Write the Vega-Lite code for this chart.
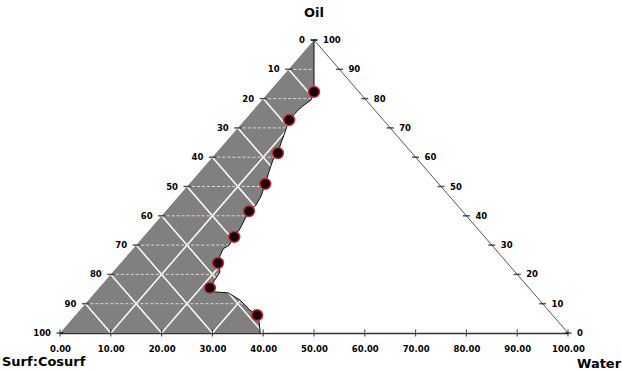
{
  "$schema": "https://vega.github.io/schema/vega-lite/v6.json",
  "width": 508,
  "height": 293,
  "autosize": {"type": "none"},
  "padding": {"left": 60, "top": 40, "right": 54, "bottom": 38},
  "background": "white",
  "config": {"view": {"stroke": null}},
  "datasets": {
    "region": [
      {"i": 0, "x": 0, "y": 0, "edge": "left"},
      {"i": 1, "x": 50, "y": 100, "edge": "boundary"},
      {"i": 2, "x": 50, "y": 83.6, "edge": "boundary"},
      {"i": 3, "x": 50, "y": 81.9, "edge": "boundary"},
      {"i": 4, "x": 49.4, "y": 79.5, "edge": "boundary"},
      {"i": 5, "x": 47.8, "y": 77.5, "edge": "boundary"},
      {"i": 6, "x": 46.5, "y": 75.4, "edge": "boundary"},
      {"i": 7, "x": 45.1, "y": 72.7, "edge": "boundary"},
      {"i": 8, "x": 44.7, "y": 70.6, "edge": "boundary"},
      {"i": 9, "x": 44.3, "y": 68.6, "edge": "boundary"},
      {"i": 10, "x": 43.5, "y": 64.8, "edge": "boundary"},
      {"i": 11, "x": 42.9, "y": 61.8, "edge": "boundary"},
      {"i": 12, "x": 41.9, "y": 59.0, "edge": "boundary"},
      {"i": 13, "x": 41.1, "y": 54.9, "edge": "boundary"},
      {"i": 14, "x": 40.4, "y": 50.9, "edge": "boundary"},
      {"i": 15, "x": 39.6, "y": 46.8, "edge": "boundary"},
      {"i": 16, "x": 38.6, "y": 43.7, "edge": "boundary"},
      {"i": 17, "x": 37.2, "y": 41.6, "edge": "boundary"},
      {"i": 18, "x": 36.4, "y": 38.9, "edge": "boundary"},
      {"i": 19, "x": 35.4, "y": 35.5, "edge": "boundary"},
      {"i": 20, "x": 34.3, "y": 32.8, "edge": "boundary"},
      {"i": 21, "x": 33.3, "y": 30.0, "edge": "boundary"},
      {"i": 22, "x": 32.1, "y": 28.7, "edge": "boundary"},
      {"i": 23, "x": 31.5, "y": 26.3, "edge": "boundary"},
      {"i": 24, "x": 31.1, "y": 23.9, "edge": "boundary"},
      {"i": 25, "x": 31.5, "y": 20.8, "edge": "boundary"},
      {"i": 26, "x": 30.3, "y": 17.7, "edge": "boundary"},
      {"i": 27, "x": 29.5, "y": 15.4, "edge": "boundary"},
      {"i": 28, "x": 30.5, "y": 14.0, "edge": "boundary"},
      {"i": 29, "x": 33.1, "y": 13.7, "edge": "boundary"},
      {"i": 30, "x": 35.4, "y": 11.3, "edge": "boundary"},
      {"i": 31, "x": 37.4, "y": 7.8, "edge": "boundary"},
      {"i": 32, "x": 38.8, "y": 6.1, "edge": "boundary"},
      {"i": 33, "x": 39.2, "y": 3.8, "edge": "boundary"},
      {"i": 34, "x": 39.4, "y": 0, "edge": "boundary"}
    ],
    "dots": [
      {"x": 50.0, "y": 82.3},
      {"x": 45.1, "y": 72.7},
      {"x": 42.9, "y": 61.4},
      {"x": 40.4, "y": 50.9},
      {"x": 37.2, "y": 41.6},
      {"x": 34.3, "y": 32.8},
      {"x": 31.1, "y": 23.9},
      {"x": 29.5, "y": 15.4},
      {"x": 38.8, "y": 6.1}
    ],
    "hgrid": [
      {"y": 10, "x": 5, "x2": 36.1},
      {"y": 20, "x": 10, "x2": 31.2},
      {"y": 30, "x": 15, "x2": 33.3},
      {"y": 40, "x": 20, "x2": 36.7},
      {"y": 50, "x": 25, "x2": 40.2},
      {"y": 60, "x": 30, "x2": 42.3},
      {"y": 70, "x": 35, "x2": 44.6},
      {"y": 80, "x": 40, "x2": 49.5},
      {"y": 90, "x": 45, "x2": 50}
    ],
    "dgrid": [
      {"x": 10, "y": 0, "x2": 55, "y2": 90}, {"x": 90, "y": 0, "x2": 45, "y2": 90},
      {"x": 20, "y": 0, "x2": 60, "y2": 80}, {"x": 80, "y": 0, "x2": 40, "y2": 80},
      {"x": 30, "y": 0, "x2": 65, "y2": 70}, {"x": 70, "y": 0, "x2": 35, "y2": 70},
      {"x": 40, "y": 0, "x2": 70, "y2": 60}, {"x": 60, "y": 0, "x2": 30, "y2": 60},
      {"x": 50, "y": 0, "x2": 75, "y2": 50}, {"x": 50, "y": 0, "x2": 25, "y2": 50},
      {"x": 60, "y": 0, "x2": 80, "y2": 40}, {"x": 40, "y": 0, "x2": 20, "y2": 40},
      {"x": 70, "y": 0, "x2": 85, "y2": 30}, {"x": 30, "y": 0, "x2": 15, "y2": 30},
      {"x": 80, "y": 0, "x2": 90, "y2": 20}, {"x": 20, "y": 0, "x2": 10, "y2": 20},
      {"x": 90, "y": 0, "x2": 95, "y2": 10}, {"x": 10, "y": 0, "x2": 5, "y2": 10}
    ],
    "sides": [
      {"side": "left", "v": 0, "x": 50, "y": 100},
      {"side": "left", "v": 10, "x": 45, "y": 90},
      {"side": "left", "v": 20, "x": 40, "y": 80},
      {"side": "left", "v": 30, "x": 35, "y": 70},
      {"side": "left", "v": 40, "x": 30, "y": 60},
      {"side": "left", "v": 50, "x": 25, "y": 50},
      {"side": "left", "v": 60, "x": 20, "y": 40},
      {"side": "left", "v": 70, "x": 15, "y": 30},
      {"side": "left", "v": 80, "x": 10, "y": 20},
      {"side": "left", "v": 90, "x": 5, "y": 10},
      {"side": "left", "v": 100, "x": 0, "y": 0},
      {"side": "right", "v": 100, "x": 50, "y": 100},
      {"side": "right", "v": 90, "x": 55, "y": 90},
      {"side": "right", "v": 80, "x": 60, "y": 80},
      {"side": "right", "v": 70, "x": 65, "y": 70},
      {"side": "right", "v": 60, "x": 70, "y": 60},
      {"side": "right", "v": 50, "x": 75, "y": 50},
      {"side": "right", "v": 40, "x": 80, "y": 40},
      {"side": "right", "v": 30, "x": 85, "y": 30},
      {"side": "right", "v": 20, "x": 90, "y": 20},
      {"side": "right", "v": 10, "x": 95, "y": 10},
      {"side": "right", "v": 0, "x": 100, "y": 0}
    ],
    "bottom": [
      {"x": 0, "y": 0}, {"x": 10, "y": 0}, {"x": 20, "y": 0}, {"x": 30, "y": 0},
      {"x": 40, "y": 0}, {"x": 50, "y": 0}, {"x": 60, "y": 0}, {"x": 70, "y": 0},
      {"x": 80, "y": 0}, {"x": 90, "y": 0}, {"x": 100, "y": 0}
    ]
  },
  "layer": [
    {
      "data": {"name": "region"},
      "mark": {"type": "line", "fill": "#808080", "strokeWidth": 0, "interpolate": "linear-closed"},
      "encoding": {
        "x": {"field": "x", "type": "quantitative", "scale": {"domain": [0, 100], "nice": false, "zero": false},
          "axis": {"title": null, "values": [0, 10, 20, 30, 40, 50, 60, 70, 80, 90, 100], "format": ".2f", "ticks": false, "grid": false,
            "labelFont": "DejaVu Sans", "labelFontWeight": "bold", "labelFontSize": 8.5, "labelColor": "#000", "labelPadding": 11,
            "domainColor": "#333", "domainWidth": 1.5, "labelFlush": false, "labelOverlap": false}},
        "y": {"field": "y", "type": "quantitative", "scale": {"domain": [0, 100], "nice": false, "zero": false}, "axis": null},
        "order": {"field": "i", "type": "quantitative"}
      }
    },
    {
      "data": {"name": "dgrid"},
      "mark": {"type": "rule", "color": "#ffffff", "strokeWidth": 1.5},
      "encoding": {
        "x": {"field": "x", "type": "quantitative"},
        "y": {"field": "y", "type": "quantitative"},
        "x2": {"field": "x2"},
        "y2": {"field": "y2"}
      }
    },
    {
      "data": {"name": "hgrid"},
      "mark": {"type": "rule", "color": "#efcfcf", "strokeWidth": 1, "strokeDash": [3, 2]},
      "encoding": {
        "x": {"field": "x", "type": "quantitative"},
        "x2": {"field": "x2"},
        "y": {"field": "y", "type": "quantitative"}
      }
    },
    {
      "data": {"name": "region"},
      "transform": [{"filter": "datum.edge == 'boundary'"}],
      "mark": {"type": "line", "color": "#111", "strokeWidth": 1},
      "encoding": {
        "x": {"field": "x", "type": "quantitative"},
        "y": {"field": "y", "type": "quantitative"},
        "order": {"field": "i", "type": "quantitative"}
      }
    },
    {
      "data": {"values": [{"x": 50, "y": 100, "x2": 100, "y2": 0}]},
      "mark": {"type": "rule", "color": "#555", "strokeWidth": 1},
      "encoding": {
        "x": {"field": "x", "type": "quantitative"},
        "y": {"field": "y", "type": "quantitative"},
        "x2": {"field": "x2"},
        "y2": {"field": "y2"}
      }
    },
    {
      "data": {"name": "dots"},
      "mark": {"type": "point", "filled": true, "fill": "#1a0000", "stroke": "#c0303a", "strokeWidth": 1.5, "size": 120, "opacity": 1},
      "encoding": {
        "x": {"field": "x", "type": "quantitative"},
        "y": {"field": "y", "type": "quantitative"}
      }
    },
    {
      "data": {"name": "sides"},
      "mark": {"type": "point", "shape": "M-1,0L1,0", "stroke": "#111", "strokeWidth": 1.5, "size": 49, "filled": false},
      "encoding": {
        "x": {"field": "x", "type": "quantitative"},
        "y": {"field": "y", "type": "quantitative"}
      }
    },
    {
      "data": {"name": "bottom"},
      "mark": {"type": "point", "shape": "M0,-1L0,1", "stroke": "#111", "strokeWidth": 1.2, "size": 49, "filled": false},
      "encoding": {
        "x": {"field": "x", "type": "quantitative"},
        "y": {"field": "y", "type": "quantitative"}
      }
    },
    {
      "data": {"name": "sides"},
      "transform": [{"filter": "datum.side == 'left'"}],
      "mark": {"type": "text", "align": "right", "baseline": "middle", "dx": -9, "font": "DejaVu Sans", "fontWeight": "bold", "fontSize": 8.5, "color": "#000"},
      "encoding": {
        "x": {"field": "x", "type": "quantitative"},
        "y": {"field": "y", "type": "quantitative"},
        "text": {"field": "v", "type": "quantitative"}
      }
    },
    {
      "data": {"name": "sides"},
      "transform": [{"filter": "datum.side == 'right'"}],
      "mark": {"type": "text", "align": "left", "baseline": "middle", "dx": 9, "font": "DejaVu Sans", "fontWeight": "bold", "fontSize": 8.5, "color": "#000"},
      "encoding": {
        "x": {"field": "x", "type": "quantitative"},
        "y": {"field": "y", "type": "quantitative"},
        "text": {"field": "v", "type": "quantitative"}
      }
    },
    {
      "data": {"values": [{"t": "Oil", "x": 50, "y": 100}]},
      "mark": {"type": "text", "align": "center", "baseline": "middle", "dy": -27, "font": "DejaVu Sans", "fontWeight": "bold", "fontSize": 13, "color": "#000"},
      "encoding": {
        "x": {"field": "x", "type": "quantitative"},
        "y": {"field": "y", "type": "quantitative"},
        "text": {"field": "t"}
      }
    },
    {
      "data": {"values": [{"t": "Surf:Cosurf", "x": 0, "y": 0}]},
      "mark": {"type": "text", "align": "left", "baseline": "middle", "dx": -58, "dy": 29, "font": "DejaVu Sans", "fontWeight": "bold", "fontSize": 13, "color": "#000"},
      "encoding": {
        "x": {"field": "x", "type": "quantitative"},
        "y": {"field": "y", "type": "quantitative"},
        "text": {"field": "t"}
      }
    },
    {
      "data": {"values": [{"t": "Water", "x": 100, "y": 0}]},
      "mark": {"type": "text", "align": "left", "baseline": "middle", "dx": 9, "dy": 31, "font": "DejaVu Sans", "fontWeight": "bold", "fontSize": 13, "color": "#000"},
      "encoding": {
        "x": {"field": "x", "type": "quantitative"},
        "y": {"field": "y", "type": "quantitative"},
        "text": {"field": "t"}
      }
    }
  ]
}
